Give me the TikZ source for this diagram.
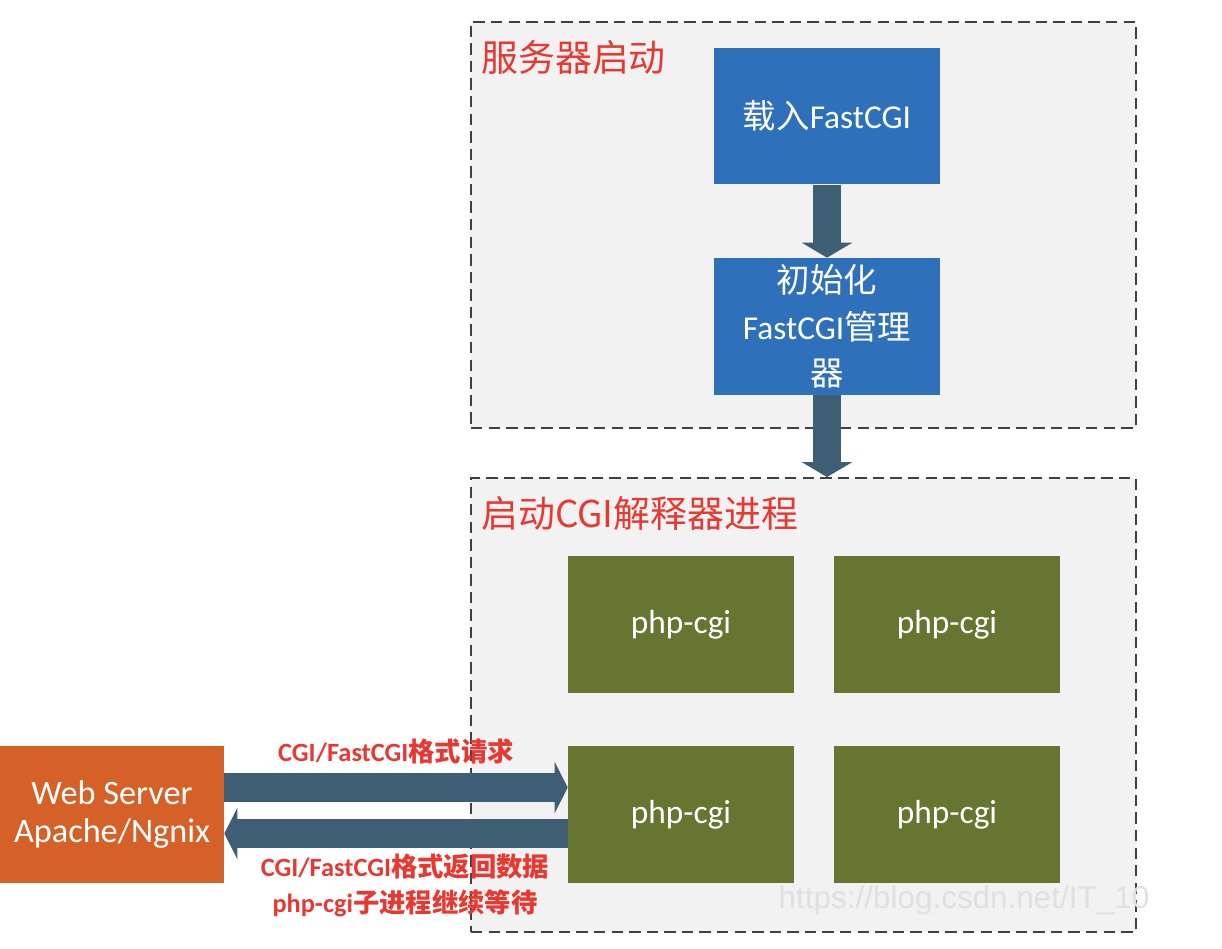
\documentclass[tikz,border=0pt]{standalone}
\usepackage{fontspec}
\setmainfont{Carlito}
\newfontfamily\cjk{Noto Sans CJK SC}
\newfontfamily\wmfont{Liberation Sans}
\usetikzlibrary{arrows.meta}
\definecolor{fcblue}{RGB}{46, 112, 186}
\definecolor{fcgreen}{RGB}{102, 117, 48}
\definecolor{fcorange}{RGB}{214, 97, 40}
\definecolor{fcarrow}{RGB}{62, 95, 115}
\definecolor{fcred}{RGB}{232, 56, 50}
\definecolor{fcframe}{RGB}{242, 242, 242}
\newcommand{\zh}[1]{{\cjk #1}}

\begin{document}
\begin{tikzpicture}[x=0.02cm, y=-0.02cm,
  frame/.style={draw=black!75, fill=fcframe, line width=1.1pt, dash pattern=on 6.5pt off 3.5pt, minimum width=13.3cm, inner sep=0pt},
  block/.style={text=white, minimum width=4.52cm, minimum height=2.74cm, inner sep=0pt, align=center, font=\fontsize{19}{26.6}\selectfont},
  blueblock/.style={block, fill=fcblue},
  phpblock/.style={block, fill=fcgreen},
  webblock/.style={block, fill=fcorange, minimum width=4.48cm, font=\fontsize{19.5}{22}\selectfont},
  redtitle/.style={text=fcred, anchor=west, inner sep=0pt, font=\fontsize{21}{24}\selectfont\cjk},
  redlabel/.style={text=fcred, align=center, inner sep=0pt, font=\fontsize{15}{20.4}\selectfont\bfseries},
  downarrow/.style={fcarrow, line width=0.56cm, -{Triangle[width=1cm, length=0.3cm]}},
  sidearrow/.style={fcarrow, line width=0.58cm, -{Triangle[width=1.02cm, length=0.26cm]}}]
\useasboundingbox (0,0) rectangle (1222,948);

% Frames
\node[frame, minimum height=8.12cm] (startframe) at (803.5,225) {};
\node[frame, minimum height=9.08cm] (procframe) at (803.5,705) {};
\node[redtitle] (starttitle) at (481,57) {服务器启动};
\node[redtitle] (proctitle) at (481,513) {启动CGI解释器进程};

% Startup steps
\node[blueblock] (load) at (827,116) {\zh{载入}FastCGI};
\node[blueblock] (init) at (827,326.5) {\zh{初始化}\\FastCGI\zh{管理}\\\zh{器}};
\draw[downarrow] (load.south) -- (init.north);
\draw[downarrow] (init.south) -- (init.south |- procframe.north);

% php-cgi processes
\node[phpblock] (phpa) at (681,624.5) {php-cgi};
\node[phpblock] (phpb) at (947,624.5) {php-cgi};
\node[phpblock] (phpc) at (681,814.5) {php-cgi};
\node[phpblock] (phpd) at (947,814.5) {php-cgi};

% Web server and requests
\node[webblock] (web) at (112,814.5) {Web Server\\Apache/Ngnix};
\draw[sidearrow] ([yshift=0.54cm]web.east) -- ([yshift=0.54cm]phpc.west);
\draw[sidearrow] ([yshift=-0.38cm]phpc.west) -- ([yshift=-0.38cm]web.east);
\node[redlabel] (reqlabel) at (396,751) {CGI/FastCGI\zh{格式请求}};
\node[redlabel] (resplabel) at (405,885) {CGI/FastCGI\zh{格式返回数据}\\php-cgi\zh{子进程继续等待}};

% Watermark
\node[text=white!88!black, font=\fontsize{17.9}{20}\selectfont\wmfont] (mark) at (964,900) {https://blog.csdn.net/IT\_10};
\end{tikzpicture}
\end{document}
